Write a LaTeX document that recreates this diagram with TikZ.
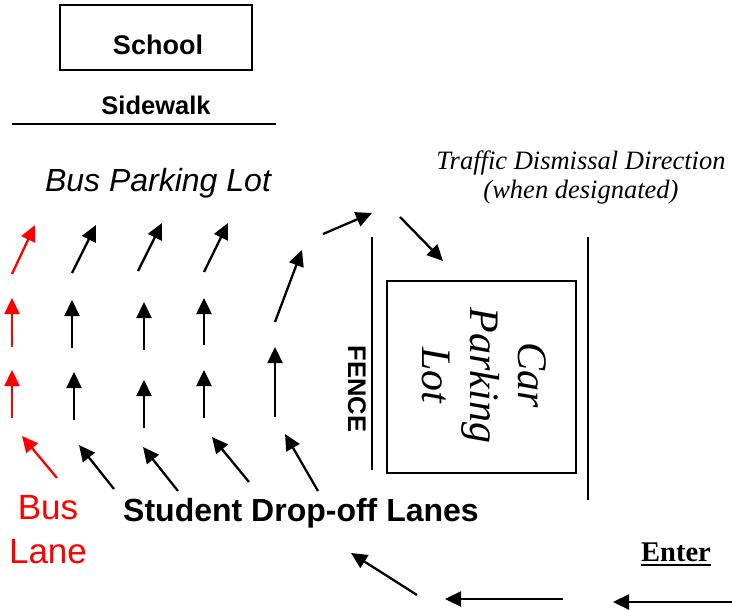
\documentclass[tikz,border=0pt]{standalone}
\usepackage{fontspec}
\setmainfont{Liberation Sans}
\newfontfamily\seriffont{Liberation Serif}
\usetikzlibrary{arrows.meta}
\begin{document}
\begin{tikzpicture}[x=1pt,y=-1pt,
  arr/.style={line width=2.3pt,-{Triangle[length=16pt,width=15pt]}},
  redarr/.style={arr,draw=red},
  plain/.style={line width=1.6pt},
  lbl/.style={inner sep=0pt,anchor=center}]
\useasboundingbox (0,0) rectangle (732,610);
% School
\node[draw,line width=1.6pt,minimum width=192pt,minimum height=65pt,inner sep=0pt] (school) at (156,37.5) {};
\node[lbl,font=\bfseries\fontsize{27}{30}\selectfont] (schooltxt) at (158,45) {School};
\node[lbl,font=\bfseries\fontsize{25.5}{28}\selectfont] (sidewalk) at (156,105) {Sidewalk};
\draw[plain] (12,124) -- (276,124);
\node[lbl,font=\itshape\fontsize{32}{36}\selectfont] (bpl) at (158,183) {Bus Parking Lot};
% Traffic text
\node[lbl,align=center,font=\seriffont\itshape\fontsize{26.5}{28.5}\selectfont] (traffic) at (581,177.5) {Traffic Dismissal Direction\\(when designated)};
% fence and right line
\draw[plain] (372,237) -- (372,470);
\draw[plain] (588,237) -- (588,500);
\node[lbl,rotate=-90,font=\bfseries\fontsize{25.5}{30}\selectfont] (fence) at (357,389) {FENCE};
% car parking lot
\node[draw,line width=1.6pt,minimum width=189pt,minimum height=192pt,inner sep=0pt] (carlot) at (481.5,377) {};
\node[lbl,rotate=-90,align=center,font=\seriffont\itshape\fontsize{42}{48}\selectfont] (cartxt) at (484,375.5) {Car\\Parking\\Lot};
% Labels
\node[lbl,align=center,text=red,font=\fontsize{35}{44}\selectfont] (buslane) at (48,530) {Bus\\Lane};
\node[lbl,font=\bfseries\fontsize{32}{36}\selectfont] (sdl) at (301,513) {Student Drop-off Lanes};
\node[lbl,font=\seriffont\bfseries\fontsize{28.5}{32}\selectfont] (enter) at (676,552) {Enter};
\draw[line width=2pt] (enter.south west) ++(0,3) coordinate (ul1) -- (ul1 -| enter.south east);
% coordinates for arrows
\coordinate (r1a) at (12,274); \coordinate (r1b) at (35,225);
\coordinate (r2a) at (12,347); \coordinate (r2b) at (12,298);
\coordinate (r3a) at (12,418); \coordinate (r3b) at (12,370);
\coordinate (r4a) at (57,478); \coordinate (r4b) at (22,436);
\coordinate (a1a) at (72,273); \coordinate (a1b) at (96,225);
\coordinate (a2a) at (72,348); \coordinate (a2b) at (72,300);
\coordinate (a3a) at (74,420); \coordinate (a3b) at (74,372);
\coordinate (a4a) at (114,489); \coordinate (a4b) at (79,445);
\coordinate (b1a) at (138,271); \coordinate (b1b) at (162,223);
\coordinate (b2a) at (144,350); \coordinate (b2b) at (144,302);
\coordinate (b3a) at (144,428); \coordinate (b3b) at (144,380);
\coordinate (b4a) at (178,491); \coordinate (b4b) at (143,447);
\coordinate (c1a) at (204,272); \coordinate (c1b) at (228,223);
\coordinate (c2a) at (204,345); \coordinate (c2b) at (204,298);
\coordinate (c3a) at (204,418); \coordinate (c3b) at (204,370);
\coordinate (c4a) at (249,482); \coordinate (c4b) at (212,437);
\coordinate (d1a) at (323,234); \coordinate (d1b) at (372,213);
\coordinate (d2a) at (275,322); \coordinate (d2b) at (302,250);
\coordinate (d3a) at (275,417); \coordinate (d3b) at (275,347);
\coordinate (d4a) at (318,491); \coordinate (d4b) at (285,434);
\coordinate (e1a) at (400,217); \coordinate (e1b) at (443,261);
\coordinate (f1a) at (417,595); \coordinate (f1b) at (351,553);
\coordinate (f2a) at (563,599); \coordinate (f2b) at (445,599);
\coordinate (f3a) at (732,602); \coordinate (f3b) at (613,602);
% red arrows
\draw[redarr] (r1a) -- (r1b);
\draw[redarr] (r2a) -- (r2b);
\draw[redarr] (r3a) -- (r3b);
\draw[redarr] (r4a) -- (r4b);
% black arrows
\foreach \p in {a,b,c,d}{
  \foreach \i in {1,2,3,4}{
    \draw[arr] (\p\i a) -- (\p\i b);
  }
}
\draw[arr] (e1a) -- (e1b);
\draw[arr] (f1a) -- (f1b);
\draw[arr] (f2a) -- (f2b);
\draw[arr] (f3a) -- (f3b);
\end{tikzpicture}
\end{document}
